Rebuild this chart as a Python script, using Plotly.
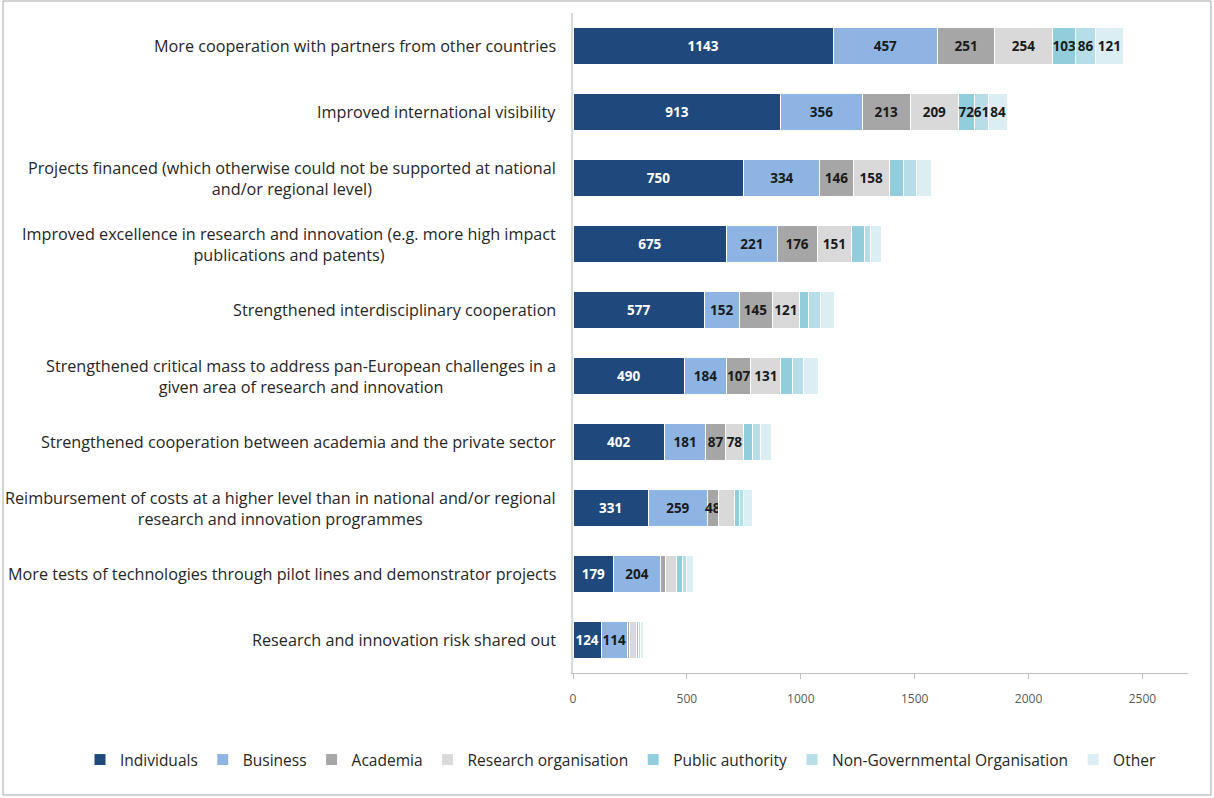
import plotly.graph_objects as go

# Expected benefits of participation, counts by type of respondent
categories = [
    "More cooperation with partners from other countries",
    "Improved international visibility",
    "Projects financed (which otherwise could not be supported at national<br>and/or regional level)",
    "Improved excellence in research and innovation (e.g. more high impact<br>publications and patents)",
    "Strengthened interdisciplinary cooperation",
    "Strengthened critical mass to address pan-European challenges in a<br>given area of research and innovation",
    "Strengthened cooperation between academia and the private sector",
    "Reimbursement of costs at a higher level than in national and/or regional<br>research and innovation programmes",
    "More tests of technologies through pilot lines and demonstrator projects",
    "Research and innovation risk shared out",
]

individuals = [1143, 913, 750, 675, 577, 490, 402, 331, 179, 124]
business = [457, 356, 334, 221, 152, 184, 181, 259, 204, 114]
academia = [251, 213, 146, 176, 145, 107, 87, 48, 23, 12]
research_org = [254, 209, 158, 151, 121, 131, 78, 72, 47, 29]
public_authority = [103, 72, 63, 56, 40, 51, 38, 23, 26, 7]
ngo = [86, 61, 56, 29, 53, 50, 37, 15, 18, 10]
other = [121, 84, 69, 47, 62, 63, 47, 42, 32, 15]

# How many leading segments of each bar carry a value label
labelled_segments = [7, 7, 4, 4, 4, 4, 4, 3, 2, 2]

series_names = ["Individuals", "Business", "Academia", "Research organisation",
                "Public authority", "Non-Governmental Organisation", "Other"]
series_values = [individuals, business, academia, research_org,
                 public_authority, ngo, other]
series_colors = ["#1F497D", "#8DB4E2", "#A6A6A6", "#D9D9D9",
                 "#92CDDC", "#B7DEE8", "#DAEEF3"]
label_colors = ["#FFFFFF"] + ["#1A1A1A"] * 6

FONT = "Open Sans"

fig = go.Figure()
for k, (name, vals, col, lcol) in enumerate(zip(series_names, series_values,
                                                 series_colors, label_colors)):
    texts = [str(v) if k < n else "" for v, n in zip(vals, labelled_segments)]
    fig.add_trace(go.Bar(
        y=categories, x=vals, name=name, orientation="h",
        marker=dict(color=col, line=dict(color="#FFFFFF", width=1)),
        text=texts, textposition="inside", insidetextanchor="middle",
        textangle=0,
        textfont=dict(family=FONT, size=13.5, color=lcol, weight="bold"),
        constraintext="none", cliponaxis=False,
    ))

# Category labels: wrapped lines centred on each other, right-aligned to the axis
for cat in categories:
    fig.add_annotation(
        x=0, xref="paper", y=cat, yref="y", text=cat, showarrow=False,
        xanchor="right", yanchor="middle", align="center", xshift=-15,
        font=dict(family=FONT, size=16.2, color="#262626"),
    )

W, H = 1214, 798
L, R, T, B = 573, 26, 13, 125
pw, ph = W - L - R, H - T - B

def px_to_paper_x(px):
    return (px - L) / pw

def px_to_paper_y(py):
    return (H - B - py) / ph

# Outer chart frame
fig.add_shape(type="rect", xref="paper", yref="paper",
              x0=px_to_paper_x(3), x1=px_to_paper_x(1211),
              y0=px_to_paper_y(795), y1=px_to_paper_y(1),
              line=dict(color="#A6A6A6", width=1), layer="below")

fig.update_layout(
    width=W, height=H, barmode="stack", bargap=0.44,
    margin=dict(l=L, r=R, t=T, b=B, pad=0),
    paper_bgcolor="white", plot_bgcolor="white",
    font=dict(family=FONT, color="#404040"),
    uniformtext=dict(minsize=13.5, mode="show"),
    showlegend=True,
    legend=dict(orientation="h", x=px_to_paper_x(80), xanchor="left",
                y=px_to_paper_y(760), yanchor="middle",
                bgcolor="rgba(0,0,0,0)",
                font=dict(family=FONT, size=15.5, color="#262626"),
                itemwidth=30, traceorder="normal"),
    xaxis=dict(range=[0, 2700], tickvals=[0, 500, 1000, 1500, 2000, 2500],
               showgrid=False, zeroline=False, showline=True,
               linecolor="#BFBFBF", linewidth=1, ticks="outside",
               tickcolor="#BFBFBF", ticklen=5, ticklabelstandoff=10,
               tickfont=dict(family=FONT, size=12, color="#595959")),
    yaxis=dict(autorange="reversed", showticklabels=False, showgrid=False,
               zeroline=False, showline=True, linecolor="#D9D9D9",
               linewidth=2, ticks=""),
)

fig.write_html("out.html")
